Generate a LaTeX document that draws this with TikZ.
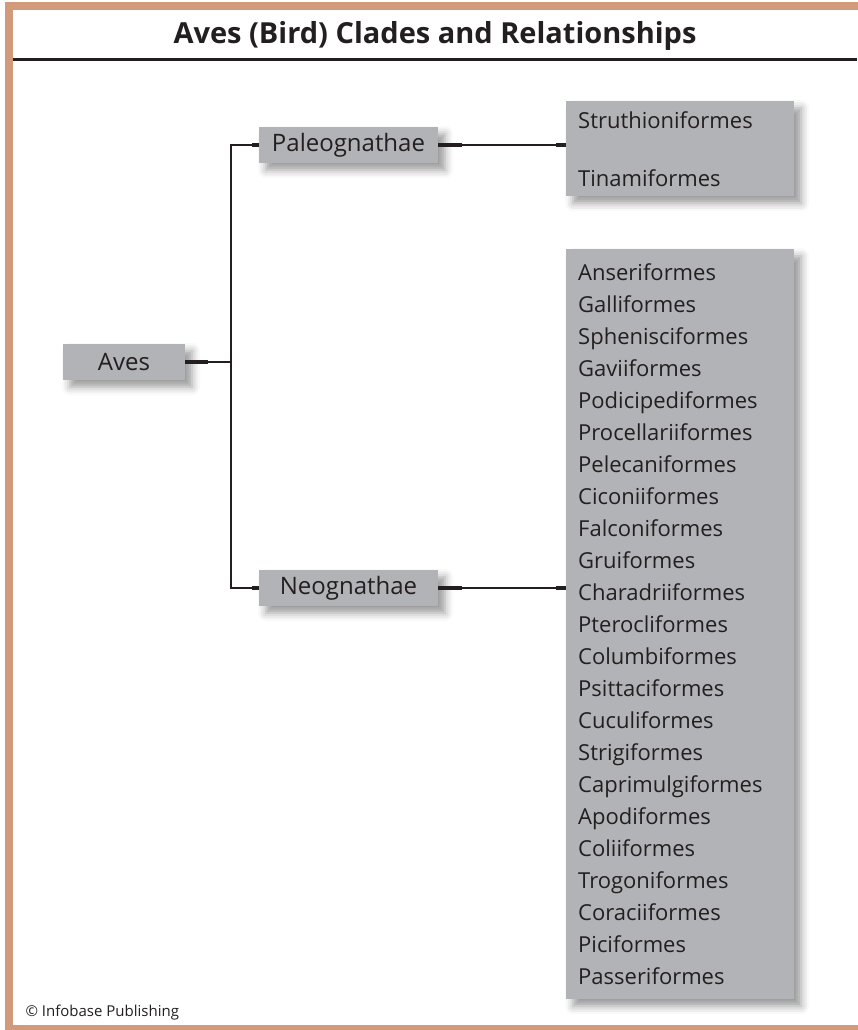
\documentclass[tikz,border=0pt]{standalone}
\usepackage{fontspec}
\setmainfont{Open Sans}
\usetikzlibrary{calc,shadows.blur}

\definecolor{ink}{HTML}{231F20}
\definecolor{clay}{HTML}{D09A7B}
\definecolor{slate}{HTML}{B2B3B6}

\begin{document}
\begin{tikzpicture}[
    x=1pt, y=-1pt,
    font=\fontsize{24}{28}\selectfont,
    text=ink,
    shade/.style={blur shadow={shadow xshift=7pt, shadow yshift=-7pt,
                  shadow blur radius=8pt, shadow opacity=40}},
    clade/.style ={rectangle, fill=slate, shade, inner sep=0pt,
                   minimum height=36pt},
    orders/.style={rectangle, fill=slate, shade, anchor=north west,
                   inner xsep=12pt, inner ysep=0pt, text width=204pt,
                   align=left, font=\fontsize{22}{32}\selectfont},
    wire/.style  ={draw=ink, line width=2pt},
    stub/.style  ={draw=ink, line width=4pt}
]
\useasboundingbox (0,0) rectangle (857,1030);

%–––– FRAME AND TITLE ––––––––––––––––––––––––––––––
\draw[clay, line width=8pt] (9,6.5) rectangle (880,1029);
\node (title) [anchor=base, font=\fontsize{29}{32}\selectfont\bfseries]
      at (435,44) {Aves (Bird) Clades and Relationships};
\draw[ink, line width=3pt] (13,60) -- (857,60);

%–––– CLADES –––––––––––––––––––––––––––––––––––––––
\node (aves) [clade, minimum width=122pt] at (124,362)   {Aves};
\node (pal)  [clade, minimum width=179pt] at (348.5,145) {Paleognathae};
\node (neo)  [clade, minimum width=179pt] at (348.5,588) {Neognathae};

%–––– ORDERS –––––––––––––––––––––––––––––––––––––––
\node (ratite) [orders, minimum height=95pt] at (566,101)
  {Struthioniformes\\[26pt]Tinamiformes};
\node (ord) [orders, minimum height=750pt] at (566,249)
  {Anseriformes\\Galliformes\\Sphenisciformes\\Gaviiformes\\
   Podicipediformes\\Procellariiformes\\Pelecaniformes\\Ciconiiformes\\
   Falconiformes\\Gruiformes\\Charadriiformes\\Pterocliformes\\
   Columbiformes\\Psittaciformes\\Cuculiformes\\Strigiformes\\
   Caprimulgiformes\\Apodiformes\\Coliiformes\\Trogoniformes\\
   Coraciiformes\\Piciformes\\Passeriformes};

%–––– BRANCHES –––––––––––––––––––––––––––––––––––––
\coordinate (fork) at ($(aves.east)+(46,0)$);
\draw[wire] (aves.east) -- (fork);
\draw[wire] (pal.west) -| (fork) |- (neo.west);
\draw[wire] (pal.east) -- (pal.east -| ratite.west);
\draw[wire] (neo.east) -- (neo.east -| ord.west);

% thick ends next to the boxes
\draw[stub] (aves.east) -- ++(23,0);
\foreach \c in {pal, neo} {
  \draw[stub] (\c.west) -- ++(-7,0);
  \draw[stub] (\c.east) -- ++(24,0);
}
\draw[stub] (pal.east -| ratite.west) -- ++(-10,0);
\draw[stub] (neo.east -| ord.west) -- ++(-10,0);

\node (credit) [anchor=base west, font=\fontsize{15}{17}\selectfont]
      at (22,1016) {© Infobase Publishing};
\end{tikzpicture}
\end{document}
